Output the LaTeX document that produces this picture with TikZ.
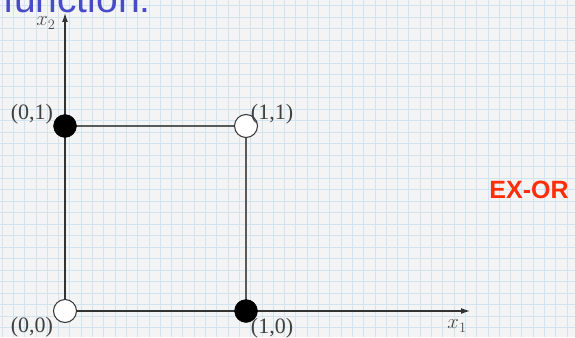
\documentclass[tikz,border=0pt]{standalone}
\usepackage{fontspec}
\setmainfont{Liberation Serif}
\newfontfamily\headfont{Liberation Sans}
\usetikzlibrary{arrows.meta}

\definecolor{paper}{RGB}{244,244,244}
\definecolor{gridblue}{RGB}{208,229,240}
\definecolor{penblue}{RGB}{72,74,200}
\definecolor{xorred}{RGB}{255,45,10}

\tikzset{
  on/.style={circle,draw=black,fill=black,minimum size=23pt,inner sep=0pt},
  off/.style={circle,draw=black!80,fill=white,line width=1pt,minimum size=23pt,inner sep=0pt},
  pt/.style={text=black!75,font=\fontsize{22}{24}\selectfont,inner sep=0pt},
  axislbl/.style={text=black!70,font=\fontsize{21}{23}\selectfont,inner sep=0pt},
  axis/.style={-{Latex[length=9pt,width=6pt]},line width=1.2pt,black!80},
  edge/.style={line width=2pt,black!65}
}

\begin{document}
\begin{tikzpicture}[x=1pt,y=-1pt]
\useasboundingbox (0,0) rectangle (575,337);
\begin{scope}
\clip (0,0) rectangle (575,337);
\fill[paper] (0,0) rectangle (575,337);
% grid paper
\foreach \i in {0,...,51} \draw[gridblue,line width=0.8pt] ({2+11.3*\i},0) -- ({2+11.3*\i},337);
\foreach \j in {0,...,29} \draw[gridblue,line width=0.8pt] (0,{5.5+11.5*\j}) -- (575,{5.5+11.5*\j});

\node[anchor=base west,text=penblue,font=\headfont\fontsize{39}{39}\selectfont,inner sep=0pt] (head) at (3,13) {function:};
\end{scope}

\coordinate (c00) at (65,311);
\coordinate (c10) at (246,311);
\coordinate (c01) at (65,126);
\coordinate (c11) at (246,126);
\coordinate (xend) at (470,311);
\coordinate (yend) at (65,13);

\draw[axis] (c00) -- (xend);
\draw[axis] (c00) -- (yend);
\draw[edge] (c01) -- (c11);
\draw[edge] (c11) -- (c10);

\node[off] (p00) at (c00) {};
\node[on] (p10) at (c10) {};
\node[on] (p01) at (c01) {};
\node[off] (p11) at (c11) {};

\node[pt] (l00) at (32,327) {(0,0)};
\node[pt] (l10) at (272,328) {(1,0)};
\node[pt] (l01) at (32,114) {(0,1)};
\node[pt] (l11) at (272,114) {(1,1)};

\node[axislbl] (x1) at (457,326) {$x_1$};
\node[axislbl] (x2) at (46,23) {$x_2$};

\node[text=xorred,font=\headfont\bfseries\fontsize{25}{25}\selectfont,inner sep=0pt] (xor) at (529,190) {EX-OR};
\end{tikzpicture}
\end{document}
